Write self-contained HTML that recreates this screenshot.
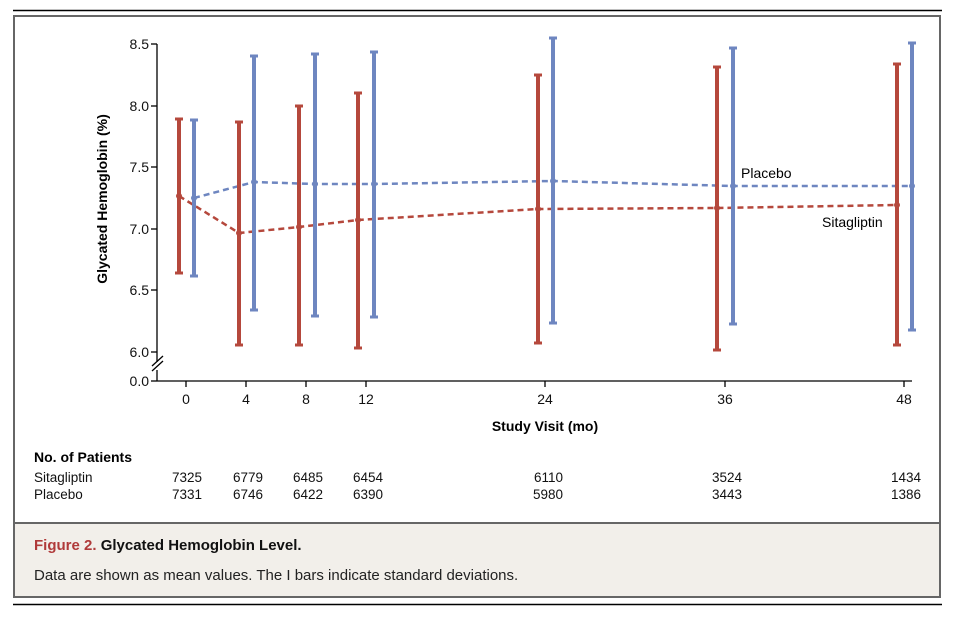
<!DOCTYPE html>
<html><head><meta charset="utf-8"><style>
body{margin:0;background:#fff;width:953px;height:613px;overflow:hidden;font-family:"Liberation Sans",sans-serif;}
</style></head><body>
<svg width="953" height="613" xmlns="http://www.w3.org/2000/svg" font-family="Liberation Sans, sans-serif">
<line x1="13" y1="10.5" x2="942" y2="10.5" stroke="#000" stroke-width="1.5"/>
<rect x="14" y="16" width="926" height="581" fill="#fff" stroke="#666" stroke-width="2"/>
<rect x="15" y="523" width="924" height="73" fill="#f2efea"/>
<line x1="14" y1="523" x2="940" y2="523" stroke="#666" stroke-width="2"/>
<line x1="13" y1="604.5" x2="942" y2="604.5" stroke="#000" stroke-width="1.5"/>
<g stroke="#000" stroke-width="1.3" fill="none">
<line x1="157" y1="44" x2="157" y2="362"/>
<line x1="157" y1="370" x2="157" y2="381"/>
<line x1="157" y1="381" x2="912" y2="381"/>
<line x1="151" y1="44" x2="157" y2="44"/><line x1="151" y1="106" x2="157" y2="106"/>
<line x1="151" y1="167" x2="157" y2="167"/><line x1="151" y1="229" x2="157" y2="229"/>
<line x1="151" y1="290" x2="157" y2="290"/><line x1="151" y1="352" x2="157" y2="352"/>
<line x1="151" y1="381" x2="157" y2="381"/>
<line x1="152" y1="366" x2="163" y2="356"/><line x1="152" y1="371" x2="163" y2="361"/>
<line x1="186" y1="381" x2="186" y2="387"/><line x1="246" y1="381" x2="246" y2="387"/>
<line x1="306" y1="381" x2="306" y2="387"/><line x1="366" y1="381" x2="366" y2="387"/>
<line x1="545" y1="381" x2="545" y2="387"/><line x1="725" y1="381" x2="725" y2="387"/>
<line x1="904" y1="381" x2="904" y2="387"/>
</g>
<g font-size="14" fill="#111" text-anchor="end">
<text x="149" y="49">8.5</text><text x="149" y="111">8.0</text><text x="149" y="172">7.5</text>
<text x="149" y="234">7.0</text><text x="149" y="295">6.5</text><text x="149" y="357">6.0</text>
<text x="149" y="386">0.0</text>
</g>
<g font-size="14" fill="#111" text-anchor="middle">
<text x="186" y="404">0</text><text x="246" y="404">4</text><text x="306" y="404">8</text>
<text x="366" y="404">12</text><text x="545" y="404">24</text><text x="725" y="404">36</text><text x="904" y="404">48</text>
</g>
<text x="545" y="431" font-size="14" font-weight="bold" text-anchor="middle">Study Visit (mo)</text>
<text transform="translate(107,199) rotate(-90)" font-size="14" font-weight="bold" text-anchor="middle">Glycated Hemoglobin (%)</text>
<polyline points="194,198 254,182 315,184 374,184 553,181 733,186 912,186" fill="none" stroke="#6e86c0" stroke-width="2.5" stroke-dasharray="6,4"/>
<polyline points="179,196 239,233 299,227 358,220 538,209 717,208 897,205" fill="none" stroke="#b5483c" stroke-width="2.5" stroke-dasharray="6,4"/>
<g stroke="#b5483c" stroke-width="4" fill="none">
<path d="M179 119V273M239 122V345M299 106V345M358 93V348M538 75V343M717 67V350M897 64V345"/>
</g>
<g stroke="#b5483c" stroke-width="3">
<path d="M175 119H183M175 273H183M235 122H243M235 345H243M295 106H303M295 345H303M354 93H362M354 348H362M534 75H542M534 343H542M713 67H721M713 350H721M893 64H901M893 345H901"/>
</g>
<g stroke="#6e86c0" stroke-width="4" fill="none">
<path d="M194 120V276M254 56V310M315 54V316M374 52V317M553 38V323M733 48V324M912 43V330"/>
</g>
<g stroke="#6e86c0" stroke-width="3">
<path d="M190 120H198M190 276H198M250 56H258M250 310H258M311 54H319M311 316H319M370 52H378M370 317H378M549 38H557M549 323H557M729 48H737M729 324H737M908 43H916M908 330H916"/>
</g>
<g fill="#6e86c0"><circle cx="194" cy="198" r="3"/><circle cx="254" cy="182" r="3"/><circle cx="315" cy="184" r="3"/><circle cx="374" cy="184" r="3"/><circle cx="553" cy="181" r="3"/><circle cx="733" cy="186" r="3"/><circle cx="912" cy="186" r="3"/></g>
<g fill="#b5483c"><circle cx="179" cy="196" r="3"/><circle cx="239" cy="233" r="3"/><circle cx="299" cy="227" r="3"/><circle cx="358" cy="220" r="3"/><circle cx="538" cy="209" r="3"/><circle cx="717" cy="208" r="3"/><circle cx="897" cy="205" r="3"/></g>
<text x="741" y="178" font-size="14">Placebo</text>
<text x="822" y="227" font-size="14">Sitagliptin</text>
<text x="34" y="462" font-size="14" font-weight="bold">No. of Patients</text>
<g font-size="13.5" fill="#111">
<text x="34" y="482">Sitagliptin</text><text x="34" y="499">Placebo</text>
</g>
<g font-size="13.5" fill="#111" text-anchor="end">
<text x="202" y="482">7325</text><text x="263" y="482">6779</text><text x="323" y="482">6485</text><text x="383" y="482">6454</text>
<text x="563" y="482">6110</text><text x="742" y="482">3524</text><text x="921" y="482">1434</text>
<text x="202" y="499">7331</text><text x="263" y="499">6746</text><text x="323" y="499">6422</text><text x="383" y="499">6390</text>
<text x="563" y="499">5980</text><text x="742" y="499">3443</text><text x="921" y="499">1386</text>
</g>
<text x="34" y="550" font-size="15" font-weight="bold"><tspan fill="#b03a3a">Figure 2.</tspan> <tspan fill="#111">Glycated Hemoglobin Level.</tspan></text>
<text x="34" y="580" font-size="15" fill="#222">Data are shown as mean values. The I bars indicate standard deviations.</text>
</svg>
</body></html>
